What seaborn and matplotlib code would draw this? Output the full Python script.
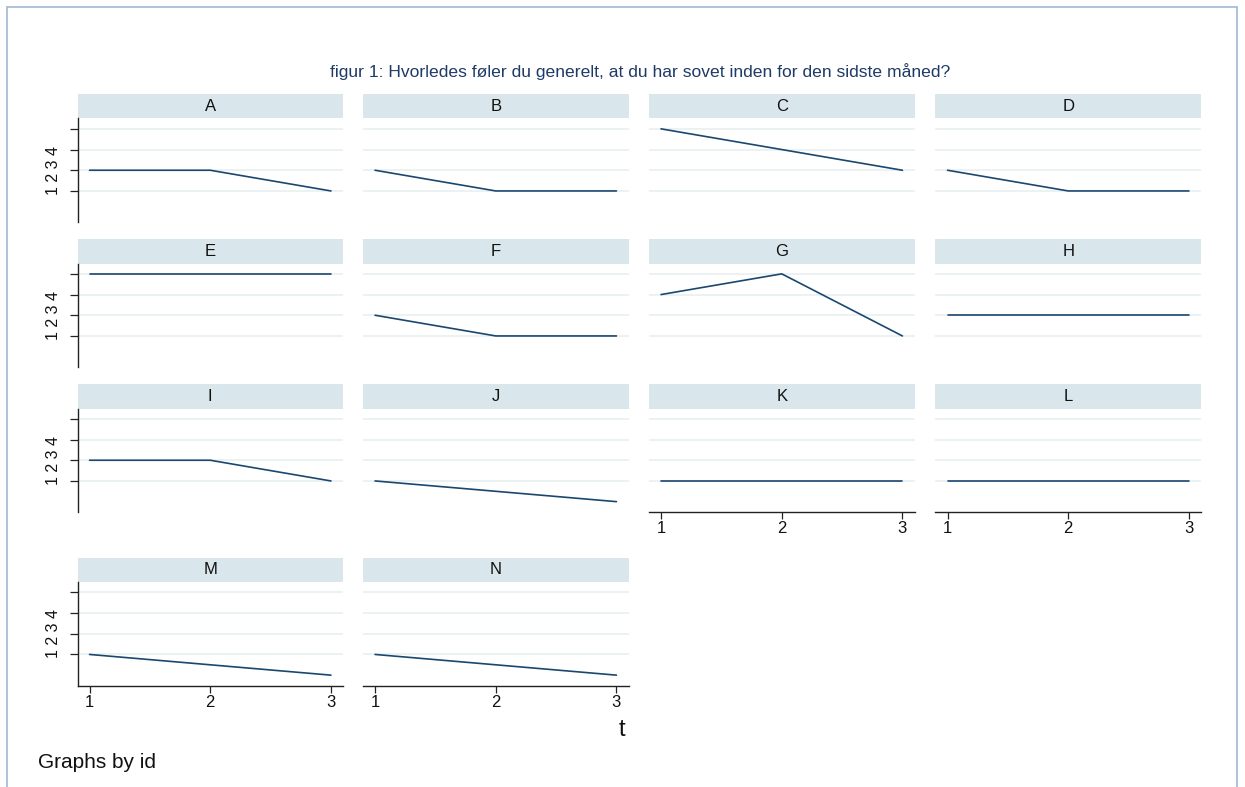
import matplotlib
matplotlib.use("Agg")
import matplotlib.pyplot as plt
from matplotlib.patches import Rectangle
import pandas as pd
import seaborn as sns

# Survey answers per respondent id over three time points
ids = ["A", "B", "C", "D", "E", "F", "G", "H", "I", "J", "K", "L", "M", "N"]
t_values = [1, 2, 3]
answers = {
    "A": [2, 2, 1],
    "B": [2, 1, 1],
    "C": [4, 3, 2],
    "D": [2, 1, 1],
    "E": [4, 4, 4],
    "F": [2, 1, 1],
    "G": [3, 4, 1],
    "H": [2, 2, 2],
    "I": [2, 2, 1],
    "J": [1, 0.5, 0],
    "K": [1, 1, 1],
    "L": [1, 1, 1],
    "M": [1, 0.5, 0],
    "N": [1, 0.5, 0],
}
y_ticks = [1, 2, 3, 4]
x_ticks = [1, 2, 3]
title = "figur 1: Hvorledes føler du generelt, at du har sovet inden for den sidste måned?"
note = "Graphs by id"
x_title = "t"
y_label = "1 2 3 4"

rows = []
for pid in ids:
    for t, v in zip(t_values, answers[pid]):
        rows.append({"id": pid, "t": t, "value": v})
df = pd.DataFrame(rows)

sns.set_theme(style="white")
plt.rcParams["font.family"] = ["Liberation Sans", "DejaVu Sans"]

LINE = "#1a476f"
STRIP = "#d9e6eb"
GRID = "#eaf2f3"
TITLE_C = "#1e3a66"

W, H = 1245, 787
fig = plt.figure(figsize=(W / 100, H / 100), dpi=100)
fig.patch.set_facecolor("white")


def px_box(left, top, width, height):
    return [left / W, 1 - (top + height) / H, width / W, height / H]


col_left = [77.5, 363, 649, 935.5]
panel_w = 265.5
row_top = [118.5, 263.5, 408.5, 582]
panel_h = 103.5
strip_h = 24.5

ncols = 4
n = len(ids)
for i, pid in enumerate(ids):
    r, c = divmod(i, ncols)
    ax = fig.add_axes(px_box(col_left[c], row_top[r], panel_w, panel_h))
    sub = df[df["id"] == pid]
    sns.lineplot(data=sub, x="t", y="value", ax=ax, color=LINE, linewidth=1.2,
                 estimator=None, sort=False)
    ax.set_xlim(0.9, 3.1)
    ax.set_ylim(-0.5, 4.5)
    ax.set_yticks(y_ticks)
    ax.set_xticks(x_ticks)
    ax.set_xlabel("")
    ax.set_ylabel("")
    ax.grid(False)
    for yv in y_ticks:
        ax.axhline(yv, color=GRID, linewidth=1.4, zorder=0)
    for s in ax.spines.values():
        s.set_visible(False)

    # y axis only on first column
    if c == 0:
        ax.spines["left"].set_visible(True)
        ax.spines["left"].set_color("#222222")
        ax.spines["left"].set_linewidth(1.0)
        ax.tick_params(axis="y", left=True, length=5.5, width=0.9,
                       color="#222222", labelleft=False)
        ax.text(-0.089, 0.5, y_label, transform=ax.transAxes, rotation=90,
                ha="center", va="center", fontsize=11.5, color="#111111")
    else:
        ax.tick_params(axis="y", left=False, labelleft=False)

    # x axis only on bottom panel of each column
    below = i + ncols
    if below >= n:
        ax.spines["bottom"].set_visible(True)
        ax.spines["bottom"].set_color("#222222")
        ax.spines["bottom"].set_linewidth(1.0)
        ax.tick_params(axis="x", bottom=True, length=5, width=0.9,
                       color="#222222", labelbottom=True, labelsize=12,
                       labelcolor="#111111", pad=1.5)
    else:
        ax.tick_params(axis="x", bottom=False, labelbottom=False)

    # strip header
    frac = strip_h / panel_h
    ax.add_patch(Rectangle((0, 1), 1, frac, transform=ax.transAxes,
                           facecolor=STRIP, edgecolor="none", clip_on=False))
    ax.text(0.5, 1 + frac / 2, pid, transform=ax.transAxes, ha="center",
            va="center", fontsize=12, color="#111111")

fig.text(640 / W, 1 - 72 / H, title, ha="center", va="center",
         fontsize=12.6, color=TITLE_C)
fig.text(622 / W, 1 - 730 / H, x_title, ha="center", va="center",
         fontsize=17, color="#111111")
fig.text(38 / W, 1 - 763 / H, note, ha="left", va="center",
         fontsize=15, color="#111111")

# outer frame
fig.add_artist(Rectangle((7 / W, -0.05), (1237 - 7) / W, 1 - 7 / H + 0.05,
                         transform=fig.transFigure, facecolor="none",
                         edgecolor="#9fb8d6", linewidth=1.2))

fig.savefig("out.png", dpi=100)
